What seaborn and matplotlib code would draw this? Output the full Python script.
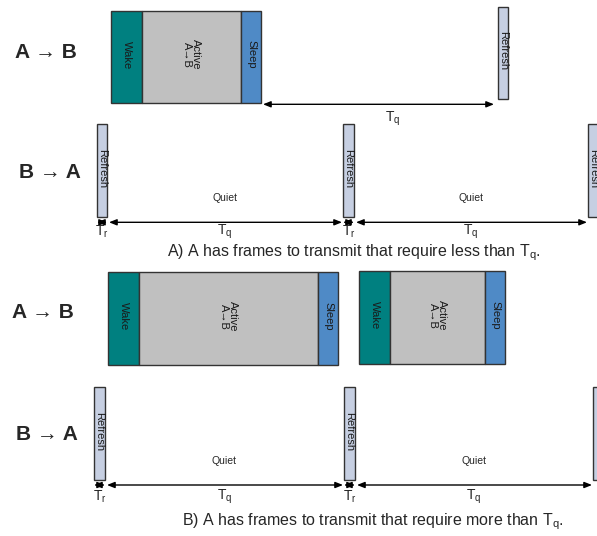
import matplotlib
matplotlib.use('Agg')
import matplotlib.pyplot as plt
import seaborn as sns

# =====================================================================
# DATA: time positions of each state (in diagram time units)
# =====================================================================
# Panel A, A->B row
A_AB_STATES = ['Wake', 'Active\nA\u2192B', 'Sleep', 'Refresh']
A_AB_START = [111, 142, 241, 498]
A_AB_END = [142, 241, 261, 508]
A_AB_TQ = (261, 494)

# Panel A, B->A row: refresh starts / ends
A_BA_REFRESH_START = [97, 343, 588]
A_BA_REFRESH_END = [107, 354, 598]

# Panel B, A->B row
B_AB_STATES = ['Wake', 'Active\nA\u2192B', 'Sleep', 'Wake', 'Active\nA\u2192B', 'Sleep']
B_AB_START = [108, 139, 318, 359, 390, 485]
B_AB_END = [139, 318, 338, 390, 485, 505]

# Panel B, B->A row
B_BA_REFRESH_START = [94, 344, 593]
B_BA_REFRESH_END = [105, 355, 603]

CAPTIONS = ['A) A has frames to transmit that require less than T$_\\mathregular{q}$.',
            'B) A has frames to transmit that require more than T$_\\mathregular{q}$.']

COLORS = {'Wake': '#008080', 'Active': '#C0C0C0', 'Sleep': '#4F8AC6', 'Refresh': '#C6CFE2'}

sns.set_style('white')
plt.rcParams['font.family'] = ['Liberation Sans', 'DejaVu Sans']
plt.rcParams['mathtext.fontset'] = 'custom'
plt.rcParams['mathtext.rm'] = 'Liberation Sans'

fig = plt.figure(figsize=(5.97, 5.36), dpi=100)
ax = fig.add_axes([0, 0, 1, 1])
ax.set_xlim(0, 597)
ax.set_ylim(536, 0)
ax.axis('off')


def kind_of(label):
    return label.split('\n')[0]


def draw_blocks(starts, ends, labels, top, bottom):
    for s, e, lab in zip(starts, ends, labels):
        ax.bar(s, bottom - top, width=e - s, bottom=top, align='edge',
               color=COLORS[kind_of(lab)], edgecolor='#333333', linewidth=1.0)
        ax.text((s + e) / 2, (top + bottom) / 2 - 2, lab, rotation=-90,
                ha='center', va='center', fontsize=8, color='#1a1a1a',
                linespacing=0.95, clip_on=True)


def darrow(x0, x1, y):
    ax.annotate('', xy=(x1, y), xytext=(x0, y),
                arrowprops=dict(arrowstyle='<|-|>,head_length=0.45,head_width=0.18',
                                color='black', lw=1.0, shrinkA=0, shrinkB=0,
                                mutation_scale=10))


def sub_label(x, y, sub):
    ax.text(x, y, 'T$_\\mathregular{%s}$' % sub, ha='center', va='center', fontsize=10)


def refresh_row(starts, ends, top, bottom, arrow_y, label_y, quiet_y):
    draw_blocks(starts, ends, ['Refresh'] * len(starts), top, bottom)
    for i, (s, e) in enumerate(zip(starts, ends)):
        darrow(s, e, arrow_y)
        if i + 1 < len(starts):
            sub_label((s + e) / 2, label_y, 'r')
            nxt = starts[i + 1]
            darrow(e + 2, nxt - 1, arrow_y)
            sub_label((e + nxt) / 2, label_y, 'q')
            ax.text((e + nxt) / 2, quiet_y, 'Quiet', ha='center', va='center', fontsize=7.5)


# ---------------- Panel A ----------------
ax.text(46, 52, 'A \u2192 B', ha='center', va='center', fontsize=15, fontweight='bold')
draw_blocks(A_AB_START[:3], A_AB_END[:3], A_AB_STATES[:3], 10.7, 102.7)
draw_blocks(A_AB_START[3:], A_AB_END[3:], A_AB_STATES[3:], 6.7, 99)
darrow(A_AB_TQ[0] + 2, A_AB_TQ[1], 104.3)
sub_label((A_AB_TQ[0] + A_AB_TQ[1]) / 2 + 15, 119, 'q')

ax.text(50, 172, 'B \u2192 A', ha='center', va='center', fontsize=15, fontweight='bold')
refresh_row(A_BA_REFRESH_START, A_BA_REFRESH_END, 124, 216.7, 222.3, 232, 198)
ax.text(354, 253, CAPTIONS[0], ha='center', va='center', fontsize=11.5)

# ---------------- Panel B ----------------
ax.text(43, 313, 'A \u2192 B', ha='center', va='center', fontsize=15, fontweight='bold')
draw_blocks(B_AB_START[:3], B_AB_END[:3], B_AB_STATES[:3], 272, 365)
draw_blocks(B_AB_START[3:], B_AB_END[3:], B_AB_STATES[3:], 271, 364)

ax.text(47, 435, 'B \u2192 A', ha='center', va='center', fontsize=15, fontweight='bold')
refresh_row(B_BA_REFRESH_START, B_BA_REFRESH_END, 387, 480, 485, 497, 461)
ax.text(373, 522, CAPTIONS[1], ha='center', va='center', fontsize=11.5)

fig.savefig('out.png', dpi=100)
